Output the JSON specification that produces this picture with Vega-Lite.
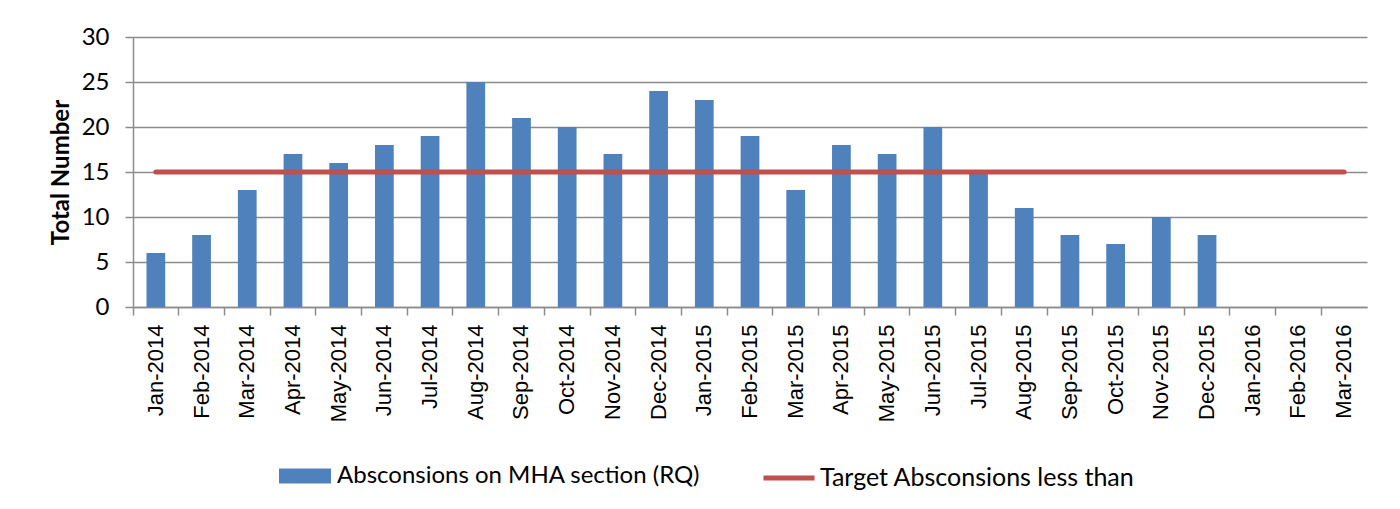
{
  "$schema": "https://vega.github.io/schema/vega-lite/v6.json",
  "autosize": "none",
  "width": 1234,
  "height": 270,
  "padding": {"left": 133, "top": 37, "right": 33, "bottom": 202},
  "background": "white",
  "config": {
    "font": "Lato",
    "view": {"stroke": null},
    "axis": {"labelColor": "black", "titleColor": "black"}
  },
  "data": {
    "values": [
      {"month": "Jan-2014", "abs": 6, "target": 15},
      {"month": "Feb-2014", "abs": 8, "target": 15},
      {"month": "Mar-2014", "abs": 13, "target": 15},
      {"month": "Apr-2014", "abs": 17, "target": 15},
      {"month": "May-2014", "abs": 16, "target": 15},
      {"month": "Jun-2014", "abs": 18, "target": 15},
      {"month": "Jul-2014", "abs": 19, "target": 15},
      {"month": "Aug-2014", "abs": 25, "target": 15},
      {"month": "Sep-2014", "abs": 21, "target": 15},
      {"month": "Oct-2014", "abs": 20, "target": 15},
      {"month": "Nov-2014", "abs": 17, "target": 15},
      {"month": "Dec-2014", "abs": 24, "target": 15},
      {"month": "Jan-2015", "abs": 23, "target": 15},
      {"month": "Feb-2015", "abs": 19, "target": 15},
      {"month": "Mar-2015", "abs": 13, "target": 15},
      {"month": "Apr-2015", "abs": 18, "target": 15},
      {"month": "May-2015", "abs": 17, "target": 15},
      {"month": "Jun-2015", "abs": 20, "target": 15},
      {"month": "Jul-2015", "abs": 15, "target": 15},
      {"month": "Aug-2015", "abs": 11, "target": 15},
      {"month": "Sep-2015", "abs": 8, "target": 15},
      {"month": "Oct-2015", "abs": 7, "target": 15},
      {"month": "Nov-2015", "abs": 10, "target": 15},
      {"month": "Dec-2015", "abs": 8, "target": 15},
      {"month": "Jan-2016", "abs": null, "target": 15},
      {"month": "Feb-2016", "abs": null, "target": 15},
      {"month": "Mar-2016", "abs": null, "target": 15}
    ]
  },
  "encoding": {
    "x": {
      "field": "month",
      "type": "nominal",
      "sort": null,
      "scale": {"paddingInner": 0, "paddingOuter": 0},
      "axis": {
        "title": null,
        "labelAngle": -90,
        "labelFont": "Liberation Sans",
        "labelFontSize": 22,
        "labelPadding": 9,
        "labelLimit": 0,
        "bandPosition": 0,
        "tickColor": "#8c8c8c",
        "tickSize": 8,
        "tickWidth": 1.5,
        "domainColor": "#8c8c8c",
        "domainWidth": 1.5,
        "grid": false
      }
    }
  },
  "layer": [
    {
      "mark": {"type": "bar", "width": {"band": 0.41}},
      "encoding": {
        "y": {
          "field": "abs",
          "type": "quantitative",
          "scale": {"domain": [0, 30], "nice": false},
          "axis": {
            "title": "Total Number",
            "titleFont": "Lato",
            "titleFontSize": 24,
            "titleFontWeight": "bold",
            "titlePadding": 8,
            "values": [0, 5, 10, 15, 20, 25, 30],
            "labelFont": "Lato",
            "labelFontSize": 24,
            "labelPadding": 16,
            "tickSize": 8,
            "tickColor": "#8c8c8c",
            "tickWidth": 1.5,
            "domainColor": "#8c8c8c",
            "domainWidth": 1.5,
            "grid": true,
            "gridColor": "#8c8c8c",
            "gridWidth": 1.5
          }
        },
        "fill": {
          "datum": "Absconsions on MHA section (RQ)",
          "scale": {"range": ["#4F81BD"]},
          "legend": {
            "title": null,
            "orient": "none",
            "legendX": 146,
            "legendY": 413,
            "padding": 0,
            "symbolType": "M-1,-0.29H1V0.29H-1Z",
            "symbolSize": 2704,
            "symbolStrokeWidth": 0,
            "labelFont": "Lato",
            "labelFontSize": 24,
            "labelLimit": 0,
            "labelColor": "black",
            "labelOffset": 6
          }
        }
      }
    },
    {
      "mark": {"type": "line", "strokeWidth": 5, "strokeCap": "round"},
      "encoding": {
        "y": {"field": "target", "type": "quantitative"},
        "stroke": {
          "datum": "Target Absconsions less than",
          "scale": {"range": ["#C0504D"]},
          "legend": {
            "title": null,
            "orient": "none",
            "legendX": 628,
            "legendY": 413,
            "padding": 0,
            "symbolType": "M-1,0H1",
            "symbolSize": 2601,
            "symbolStrokeWidth": 5,
            "labelFont": "Lato",
            "labelFontSize": 25,
            "labelLimit": 0,
            "labelColor": "black",
            "labelOffset": 3
          }
        }
      }
    }
  ],
  "resolve": {"scale": {"fill": "independent", "stroke": "independent"}, "legend": {"fill": "independent", "stroke": "independent"}}
}
